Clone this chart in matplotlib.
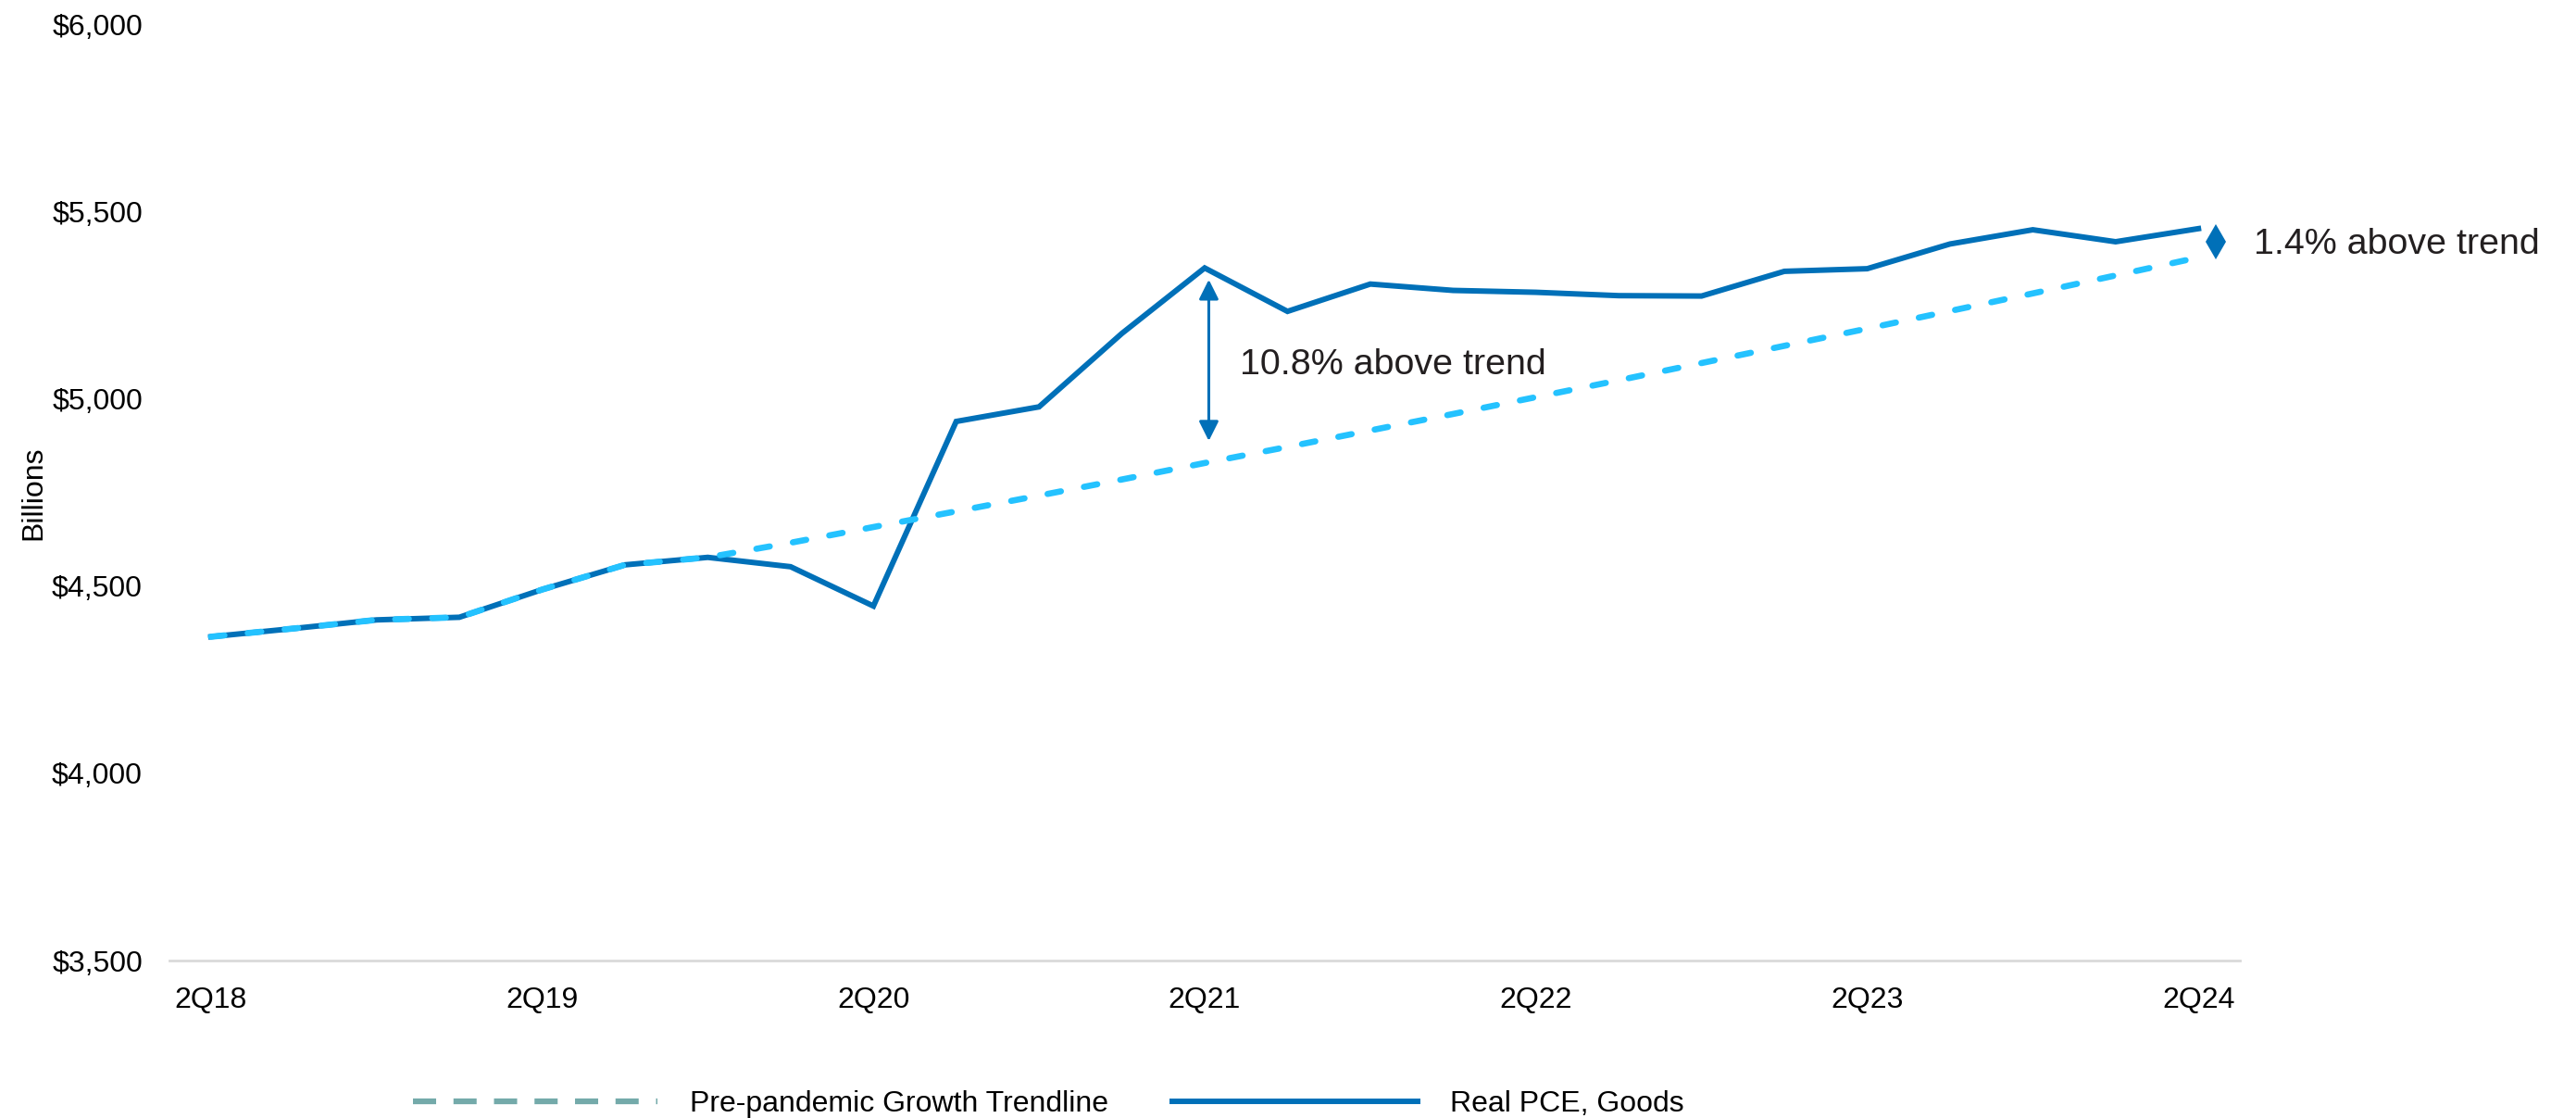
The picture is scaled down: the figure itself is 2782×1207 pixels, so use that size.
import matplotlib.pyplot as plt
from matplotlib.lines import Line2D

plt.rcParams["font.family"] = ["Liberation Sans", "DejaVu Sans"]

# Real PCE on goods, quarterly from 2Q18 to 2Q24 ($ billions)
real_pce = [4365, 4387, 4410, 4417, 4491, 4557, 4577, 4552, 4447,
            4940, 4979, 5175, 5350, 5234, 5307, 5290, 5285, 5276,
            5275, 5341, 5348, 5414, 5452, 5420, 5455]
# Pre-pandemic growth trend (follows actuals through 4Q19, then projected)
trend = [4365, 4387, 4410, 4417, 4491, 4557, 4577, 4616, 4658,
         4700, 4742, 4785, 4829, 4872, 4916, 4960, 5005, 5050,
         5096, 5142, 5188, 5235, 5282, 5330, 5378]
tick_pos = [0, 4, 8, 12, 16, 20, 24]
tick_labels = ["2Q18", "2Q19", "2Q20", "2Q21", "2Q22", "2Q23", "2Q24"]
y_ticks = [3500, 4000, 4500, 5000, 5500, 6000]

peak_idx = 12
last_idx = len(real_pce) - 1

DARK_BLUE = "#0070B8"
LIGHT_BLUE = "#24C2FF"
LEGEND_TEAL = "#74AAAA"
TEXT = "#231F20"

fig = plt.figure(figsize=(27.82, 12.07), dpi=100)
ax = fig.add_axes([0.0658, 0.1408, 0.8037, 0.8372])

x = list(range(len(real_pce)))
ax.plot(x, real_pce, color=DARK_BLUE, lw=4.3, solid_joinstyle="miter", zorder=2)
ax.plot(x, trend, color=LIGHT_BLUE, lw=4.8, dashes=(2.2, 3.8),
        dash_capstyle="round", zorder=3)

# gap between actual and trend at the 2Q21 peak
ax.annotate("", xy=(peak_idx + 0.05, real_pce[peak_idx] - 31),
            xytext=(peak_idx + 0.05, trend[peak_idx] + 59),
            arrowprops=dict(arrowstyle="<|-|>", color=DARK_BLUE, lw=2.2,
                            mutation_scale=32, shrinkA=0, shrinkB=0))
gap_peak = real_pce[peak_idx] / trend[peak_idx] - 1
ax.text(peak_idx + 0.42, 5090, f"{gap_peak:.1%} above trend", fontsize=28.4,
        color=TEXT, ha="left", va="center")

# latest gap marker
gap_last = real_pce[last_idx] / trend[last_idx] - 1
mid_last = (real_pce[last_idx] + trend[last_idx]) / 2
ax.plot([last_idx + 0.21], [mid_last + 3], marker="d", markersize=19.5,
        color=DARK_BLUE, markeredgewidth=0, clip_on=False)
ax.text(last_idx + 0.67, mid_last - 4, f"{gap_last:.1%} above trend",
        fontsize=28.4, color=TEXT, ha="left", va="center")

ax.set_xlim(-0.5, 24.5)
ax.set_ylim(3500, 6000)
ax.set_xticks(tick_pos, tick_labels)
ax.set_yticks(y_ticks, [f"${v:,}" for v in y_ticks])
ax.tick_params(axis="x", length=0, pad=20, labelsize=23, labelcolor="black")
ax.tick_params(axis="y", length=0, pad=21, labelsize=23, labelcolor="black")
for side in ("top", "right", "left"):
    ax.spines[side].set_visible(False)
ax.spines["bottom"].set_color("#D9D9D9")
ax.spines["bottom"].set_linewidth(2)

ax.set_ylabel("Billions", fontsize=23, color="black")
ax.yaxis.set_label_coords(-0.059, 0.5)

handles = [
    Line2D([], [], color=LEGEND_TEAL, lw=4.5, dashes=(4, 3), dash_capstyle="butt"),
    Line2D([], [], color=DARK_BLUE, lw=4.3),
]
fig.legend(handles, ["Pre-pandemic Growth Trendline", "Real PCE, Goods"],
           loc="center", bbox_to_anchor=(0.407, 0.0124), ncol=2, frameon=False,
           fontsize=23, handlelength=8.27, handletextpad=1.1, columnspacing=2.16,
           borderpad=0.2)

fig.savefig("out.png", dpi=100)
